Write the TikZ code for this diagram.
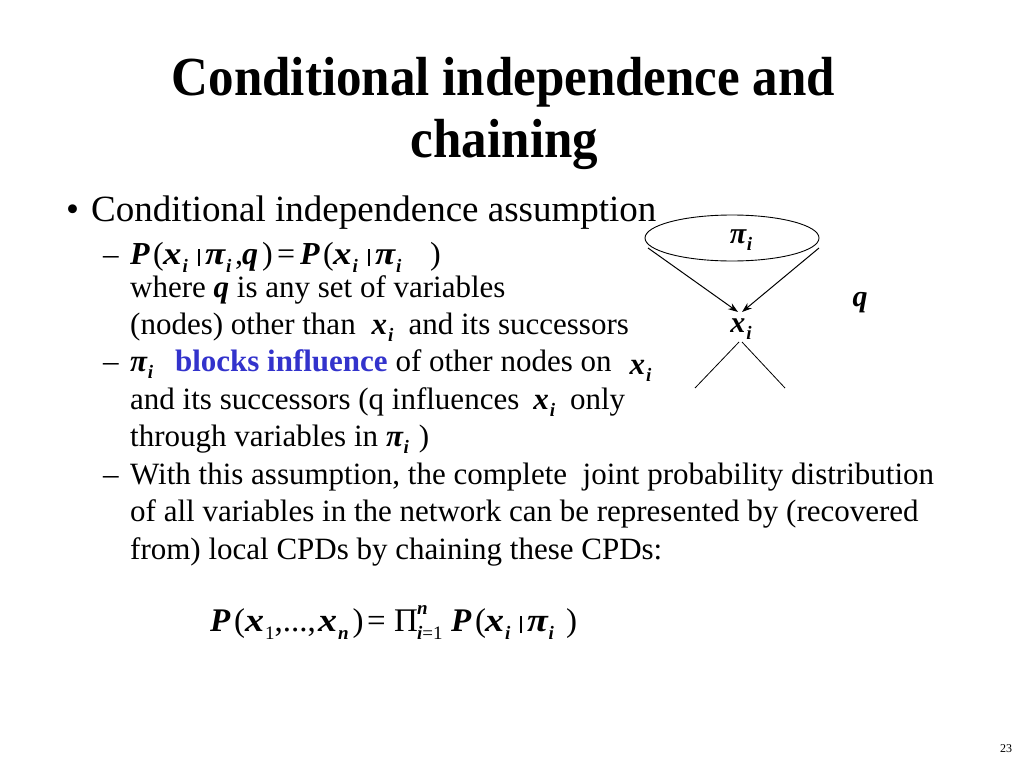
\documentclass[tikz,border=0pt]{standalone}
\usepackage{fontspec}
\setmainfont{Liberation Serif}
\usetikzlibrary{arrows.meta}
\definecolor{blueT}{RGB}{51,51,204}
\newcommand{\bi}[1]{\textbf{\textit{#1}}}
\newcommand{\sbs}[1]{\raisebox{-0.25em}{\fontsize{19}{19}\selectfont\bi{#1}}}
\newcommand{\sbr}[1]{\raisebox{-0.25em}{\fontsize{19}{19}\selectfont #1}}
\newcommand{\sps}[1]{\raisebox{0.5em}{\fontsize{19}{19}\selectfont\bi{#1}}}
\newcommand{\myxsub}{\bi{x}\hspace{1pt}\sbs{i}}
\newcommand{\mypisub}{\bi{π}\sbs{i}}
\newcommand{\wx}{\scalebox{1.15}[1]{\bi{x}}}
\newcommand{\wpi}{\scalebox{1.15}[1]{\bi{π}}}
\newcommand{\exs}{\wx\hspace{1pt}\sbs{i}}
\newcommand{\eps}{\wpi\sbs{i}}
\newcommand{\bx}[2]{\makebox[#1pt][l]{#2}}
\newcommand{\vb}{\makebox[12pt][c]{\rule[-2pt]{1.5pt}{17pt}}}
\begin{document}
\begin{tikzpicture}[x=1pt,y=-1pt,
  txt/.style={anchor=base west,inner sep=0pt,font=\fontsize{31}{31}\selectfont},
  eqn/.style={anchor=base west,inner sep=0pt,font=\fontsize{32}{32}\selectfont},
  big/.style={anchor=base west,inner sep=0pt,font=\fontsize{37}{37}\selectfont},
  ttl/.style={anchor=base,inner sep=0pt,font=\fontsize{51}{51}\selectfont\bfseries},
  arr/.style={-{Stealth[length=10pt,width=7pt]},line width=1pt},
  ln/.style={line width=0.8pt}]
\useasboundingbox (0,0) rectangle (1024,768);
\fill[white] (0,0) rectangle (1024,768);
% title
\node[ttl] (t1) at (503.5,95) {\scalebox{1}[1.08]{Conditional independence and}};
\node[ttl] (t2) at (504.5,157) {\scalebox{1}[1.08]{chaining}};
% bullet
\node[big] (b1) at (66,221) {•};
\node[big] (l1) at (91,221) {Conditional independence assumption};
% sub items
\node[txt] (d1) at (103,264) {–};
\node[eqn] (l2) at (130,264) {\bx{23}{\bi{P}}\bx{10}{(}\bx{30}{\exs}\vb\bx{30}{\eps}\bx{7}{,}\bx{20}{\bi{q}}\bx{15}{)}\bx{23}{=}\bx{23}{\bi{P}}\bx{10}{(}\bx{30}{\exs}\vb\bx{55}{\eps})};
\node[txt] (l3) at (130,297) {where \bi{q} is any set of variables};
\node[txt] (l4) at (130,334) {(nodes) other than\hspace{16pt}\myxsub\hspace{15pt}and its successors};
\node[txt] (d2) at (103,371) {–};
\node[txt] (l5) at (130,371) {\mypisub\hspace{22pt}\textcolor{blueT}{\textbf{blocks influence}} of other nodes on\hspace{18pt}\raisebox{-3pt}{\myxsub}};
\node[txt] (l6) at (130,409) {and its successors (q influences\hspace{14pt}\myxsub\hspace{15pt}only};
\node[txt] (l7) at (130,446) {through variables in\hspace{8pt}\mypisub\hspace{10pt})};
\node[txt] (d3) at (103,484) {–};
\node[txt] (l8) at (130,484) {With this assumption, the complete \ joint probability distribution};
\node[txt] (l9) at (130,521) {of all variables in the network can be represented by (recovered};
\node[txt] (l10) at (130,559) {from) local CPDs by chaining these CPDs:};
% chain formula
\node[anchor=base west,inner sep=0pt,font=\fontsize{33}{33}\selectfont] (f) at (210,631) {\bx{24}{\bi{P}}\bx{11}{(}\bx{73}{\wx\hspace{1pt}\sbr{1},...,}\bx{34.5}{\wx\hspace{1pt}\sbs{n}}\bx{14.5}{)}\bx{27}{=}\bx{23}{Π}\bx{34}{\rlap{\sps{n}}\sbr{\bi{i}=1}}\bx{24}{\bi{P}}\bx{10}{(}\bx{30}{\exs}\vb\bx{39}{\eps})};
% graph
\draw[line width=0.9pt] (732,238) ellipse [x radius=87, y radius=23];
\node[inner sep=0pt,font=\fontsize{30}{30}\selectfont] (pi) at (741,240) {\mypisub};
\coordinate (el) at (648,248);
\coordinate (er) at (819,248);
\node[inner sep=1pt,font=\fontsize{30}{30}\selectfont] (x) at (741,329) {\myxsub};
\coordinate (xa) at (738,312);
\coordinate (xb) at (742,312);
\draw[arr] (el) -- (xa);
\draw[arr] (er) -- (xb);
\coordinate (xc) at (739,342);
\coordinate (xd) at (742,342);
\coordinate (cl) at (695,388);
\coordinate (cr) at (785,388);
\draw[ln] (xc) -- (cl);
\draw[ln] (xd) -- (cr);
\node[inner sep=0pt,font=\fontsize{30}{30}\selectfont] (q) at (860,303) {\bi{q}};
\node[inner sep=0pt,anchor=base,font=\fontsize{12}{12}\selectfont] (pg) at (1006,752) {23};
\end{tikzpicture}
\end{document}
